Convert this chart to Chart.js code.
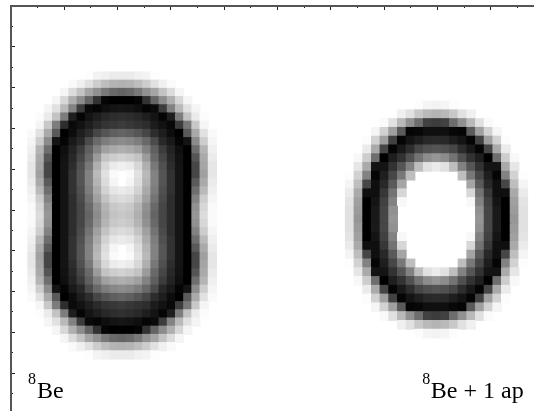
<!DOCTYPE html>
<html>
<head>
<meta charset="utf-8">
<style>
  html, body { margin: 0; padding: 0; background: #fff; }
  canvas { display: block; }
</style>
<script src="https://cdn.jsdelivr.net/npm/chart.js@4"></script>
</head>
<body>
<canvas id="densityChart" width="534" height="411"></canvas>
<script>
// cell centres, in axis units
const leftCols = [2.56, 3.56, 4.56, 5.56, 6.56, 7.56, 8.56, 9.56, 10.56, 11.56, 12.56, 13.56, 14.56, 15.56, 16.56, 17.56, 18.56, 19.56, 20.56, 21.56, 22.56, 23.56, 24.56];
const leftRows = [8.55, 9.55, 10.55, 11.55, 12.55, 13.55, 14.55, 15.55, 16.55, 17.55, 18.55, 19.55, 20.55, 21.55, 22.55, 23.55, 24.55, 25.55, 26.55, 27.55, 28.55, 29.55, 30.55, 31.55, 32.55, 33.55, 34.55, 35.55, 36.55, 37.55, 38.55, 39.55, 40.55, 41.55, 42.55];
const rightCols = [41.31, 42.37, 43.43, 44.49, 45.54, 46.6, 47.66, 48.72, 49.77, 50.83, 51.89, 52.95, 54.01, 55.06, 56.12, 57.18, 58.24, 59.3, 60.35, 61.41, 62.47];
const rightRows = [12.13, 13.2, 14.27, 15.34, 16.41, 17.48, 18.55, 19.62, 20.69, 21.76, 22.83, 23.9, 24.97, 26.04, 27.11, 28.18, 29.25, 30.32, 31.39, 32.46, 33.53, 34.6, 35.67, 36.74, 37.81, 38.88, 39.95];

// density, 0 = empty, 255 = full
const leftDensity = [
  [0,0,0,0,0,0,0,2,12,15,20,20,20,15,12,2,0,0,0,0,0,0,0],
  [0,0,0,0,0,5,15,30,50,65,75,77,75,65,50,30,15,5,0,0,0,0,0],
  [0,0,0,0,10,35,60,90,110,135,150,155,150,135,110,90,60,35,10,0,0,0,0],
  [0,0,0,10,40,80,115,155,205,250,255,255,255,250,205,155,115,80,40,10,0,0,0],
  [0,0,10,30,70,125,195,245,250,240,235,233,235,240,250,245,195,125,70,30,10,0,0],
  [0,3,20,60,130,225,250,235,225,215,210,207,210,215,225,235,250,225,130,60,20,3,0],
  [0,10,55,130,210,245,237,225,213,203,200,195,200,205,210,227,237,247,195,135,55,10,0],
  [5,30,85,165,255,243,225,210,185,170,160,155,160,170,185,210,225,243,255,165,85,30,5],
  [10,50,115,235,250,230,215,180,150,130,120,115,120,130,150,180,215,230,250,235,115,50,10],
  [15,75,145,255,240,220,195,160,125,95,85,80,85,95,125,160,195,220,240,255,145,75,15],
  [20,85,170,255,237,215,185,150,100,60,50,45,50,60,100,150,185,215,237,255,170,85,20],
  [25,90,185,255,235,210,175,135,80,40,20,15,20,40,80,135,175,210,235,255,185,90,25],
  [25,95,185,255,235,205,170,125,70,30,5,0,5,30,70,125,170,205,235,255,185,95,25],
  [20,85,165,255,235,205,170,125,75,35,10,0,10,35,75,125,170,205,235,255,165,85,20],
  [15,70,145,255,235,205,175,130,85,45,25,20,25,45,85,130,175,205,235,255,145,70,15],
  [10,50,125,255,235,210,180,140,95,60,40,35,40,60,95,140,180,210,235,255,125,50,10],
  [5,40,110,255,235,210,185,150,110,75,55,50,55,75,110,150,185,210,235,255,110,40,5],
  [5,35,105,255,235,210,185,155,115,80,60,55,60,80,115,155,185,210,235,255,105,35,5],
  [5,40,110,255,235,210,185,150,110,75,55,50,55,75,110,150,185,210,235,255,110,40,5],
  [10,50,125,255,235,210,180,140,95,60,40,35,40,60,95,140,180,210,235,255,125,50,10],
  [15,70,145,255,235,205,175,130,85,45,25,20,25,45,85,130,175,205,235,255,145,70,15],
  [20,85,165,255,235,205,170,125,75,35,10,0,10,35,75,125,170,205,235,255,165,85,20],
  [25,95,185,255,235,205,170,125,70,30,5,0,5,30,70,125,170,205,235,255,185,95,25],
  [25,90,185,255,235,210,175,135,80,40,20,15,20,40,80,135,175,210,235,255,185,90,25],
  [20,85,170,255,237,215,185,150,100,60,50,45,50,60,100,150,185,215,237,255,170,85,20],
  [15,75,145,255,240,220,195,160,125,95,85,80,85,95,125,160,195,220,240,255,145,75,15],
  [10,50,115,235,250,230,215,180,150,130,120,115,120,130,150,180,215,230,250,235,115,50,10],
  [5,30,85,165,255,243,225,210,185,170,160,155,160,170,185,210,225,243,255,165,85,30,5],
  [0,10,55,130,210,245,237,225,213,203,200,195,200,205,210,227,237,247,195,135,55,10,0],
  [0,3,20,60,130,225,250,235,225,215,210,207,210,215,225,235,250,225,130,60,20,3,0],
  [0,0,10,30,70,125,195,245,250,240,235,233,235,240,250,245,195,125,70,30,10,0,0],
  [0,0,0,10,40,80,115,155,205,250,255,255,255,250,205,155,115,80,40,10,0,0,0],
  [0,0,0,0,10,35,60,90,110,135,150,155,150,135,110,90,60,35,10,0,0,0,0],
  [0,0,0,0,0,5,15,30,50,65,75,77,75,65,50,30,15,5,0,0,0,0,0],
  [0,0,0,0,0,0,0,2,12,15,20,20,20,15,12,2,0,0,0,0,0,0,0]
];
const rightDensity = [
  [0,0,0,0,0,0,0,0,3,10,12,10,3,0,0,0,0,0,0,0,0],
  [0,0,0,0,0,0,15,30,55,70,75,70,55,30,15,0,0,0,0,0,0],
  [0,0,0,0,5,30,70,110,145,190,195,190,145,110,70,30,5,0,0,0,0],
  [0,0,0,10,45,95,165,250,247,240,240,240,247,250,165,95,45,10,0,0,0],
  [0,0,3,45,95,190,250,235,225,215,213,215,225,235,250,190,95,45,3,0,0],
  [0,0,20,85,185,250,230,210,185,175,170,175,185,210,230,250,185,85,20,0,0],
  [0,7,50,145,255,225,205,175,140,115,105,115,140,175,205,225,255,145,50,7,0],
  [0,25,85,235,235,205,170,125,65,30,20,30,65,125,170,205,235,235,85,25,0],
  [2,45,125,250,225,185,135,65,0,0,0,0,0,65,135,185,225,250,125,45,2],
  [10,65,185,240,215,165,90,0,0,0,0,0,0,0,90,165,215,240,185,65,10],
  [20,85,240,240,200,140,40,0,0,0,0,0,0,0,40,140,200,240,240,85,20],
  [27,95,255,235,190,125,7,0,0,0,0,0,0,0,7,125,190,235,255,95,27],
  [30,100,255,230,185,110,0,0,0,0,0,0,0,0,0,110,185,230,255,100,30],
  [30,105,255,230,185,105,0,0,0,0,0,0,0,0,0,105,185,230,255,105,30],
  [30,100,255,230,185,110,0,0,0,0,0,0,0,0,0,110,185,230,255,100,30],
  [27,95,255,235,190,125,7,0,0,0,0,0,0,0,7,125,190,235,255,95,27],
  [20,85,240,240,200,140,40,0,0,0,0,0,0,0,40,140,200,240,240,85,20],
  [10,65,185,240,215,165,90,0,0,0,0,0,0,0,90,165,215,240,185,65,10],
  [2,45,125,250,225,185,135,65,0,0,0,0,0,65,135,185,225,250,125,45,2],
  [0,25,85,235,235,205,170,125,65,30,20,30,65,125,170,205,235,235,85,25,0],
  [0,7,50,145,255,225,205,175,140,115,105,115,140,175,205,225,255,145,50,7,0],
  [0,0,20,85,185,250,230,210,185,175,170,175,185,210,230,250,185,85,20,0,0],
  [0,0,3,45,95,190,250,235,225,215,213,215,225,235,250,190,95,45,3,0,0],
  [0,0,0,10,45,95,165,250,247,240,240,240,247,250,165,95,45,10,0,0,0],
  [0,0,0,0,5,30,70,110,145,190,195,190,145,110,70,30,5,0,0,0,0],
  [0,0,0,0,0,0,15,30,55,70,75,70,55,30,15,0,0,0,0,0,0],
  [0,0,0,0,0,0,0,0,3,10,12,10,3,0,0,0,0,0,0,0,0]
];

const xMajorTicks = [0, 6.5, 13, 19.5, 26, 32.5, 39, 45.5, 52, 58.5];
const xMinorTicks = [3.25, 9.75, 16.25, 22.75, 29.25, 35.75, 42.25, 48.75, 55.25, 61.75];
const yMajorTicks = [0, 4.98, 9.95, 14.93, 19.9, 24.88, 29.85, 34.83, 39.8, 44.78];
const yMinorTicks = [2.49, 7.46, 12.44, 17.41, 22.39, 27.36, 32.34, 37.31, 42.29, 47.27];

const labelTexts = [
  { text: '8', x: 2.07, y: 46.05, sup: true },
  { text: 'Be', x: 3.17, y: 47.8 },
  { text: '8', x: 50.15, y: 46.05, sup: true },
  { text: 'Be + 1 ap', x: 51.2, y: 47.8 }
];

function buildCells(cols, rows, density) {
  const points = [];
  const colors = [];
  rows.forEach((y, r) => {
    cols.forEach((x, c) => {
      if (density[r][c] === 0) return;
      const g = 255 - density[r][c];
      points.push({ x: x, y: y });
      colors.push('rgb(' + g + ',' + g + ',' + g + ')');
    });
  });
  return { points, colors };
}

const left = buildCells(leftCols, leftRows, leftDensity);
const right = buildCells(rightCols, rightRows, rightDensity);

// the rect point style is a square of side radius * sqrt(2)
// cells overlap by 1px or the white page leaks through the antialiased edges
function cellDataset(cells, radius) {
  return {
    data: cells.points,
    pointStyle: 'rect',
    pointRadius: radius,
    pointBorderWidth: 0,
    pointBackgroundColor: cells.colors,
    showLine: false
  };
}

function tickAxis(position, ticks, length, border, max, reverse) {
  return {
    type: 'linear',
    position: position,
    min: 0,
    max: max,
    reverse: reverse,
    afterBuildTicks: scale => { scale.ticks = ticks.map(v => ({ value: v })); },
    afterFit: scale => {
      if (position === 'top') scale.height = 0;
      else scale.width = 0;
    },
    ticks: { display: false },
    border: { display: border, color: '#555', width: 2 },
    grid: { drawOnChartArea: false, drawTicks: true, tickLength: length, tickColor: '#222', tickWidth: 1 }
  };
}

const textPlugin = {
  id: 'textLabels',
  afterDraw(chart) {
    const c = chart.ctx;
    c.save();
    c.fillStyle = '#000';
    c.textBaseline = 'alphabetic';
    labelTexts.forEach(l => {
      c.font = (l.sup ? 16 : 24) + 'px "Liberation Serif"';
      c.fillText(l.text, chart.scales.x.getPixelForValue(l.x), chart.scales.y.getPixelForValue(l.y));
    });
    c.restore();
  }
};

new Chart(document.getElementById('densityChart'), {
  type: 'scatter',
  data: {
    datasets: [
      cellDataset(left, 6.55),
      cellDataset(right, 6.85)
    ]
  },
  options: {
    responsive: false,
    animation: false,
    devicePixelRatio: 1,
    layout: { autoPadding: false, padding: { left: 11, top: 6, right: 0, bottom: 0 } },
    plugins: { legend: { display: false }, tooltip: { enabled: false } },
    scales: {
      x: tickAxis('top', xMajorTicks, -4, true, 63.78, false),
      x2: tickAxis('top', xMinorTicks, -2, false, 63.78, false),
      y: tickAxis('left', yMajorTicks, -4, true, 49.39, true),
      y2: tickAxis('left', yMinorTicks, -2, false, 49.39, true)
    }
  },
  plugins: [textPlugin]
});
</script>
</body>
</html>
